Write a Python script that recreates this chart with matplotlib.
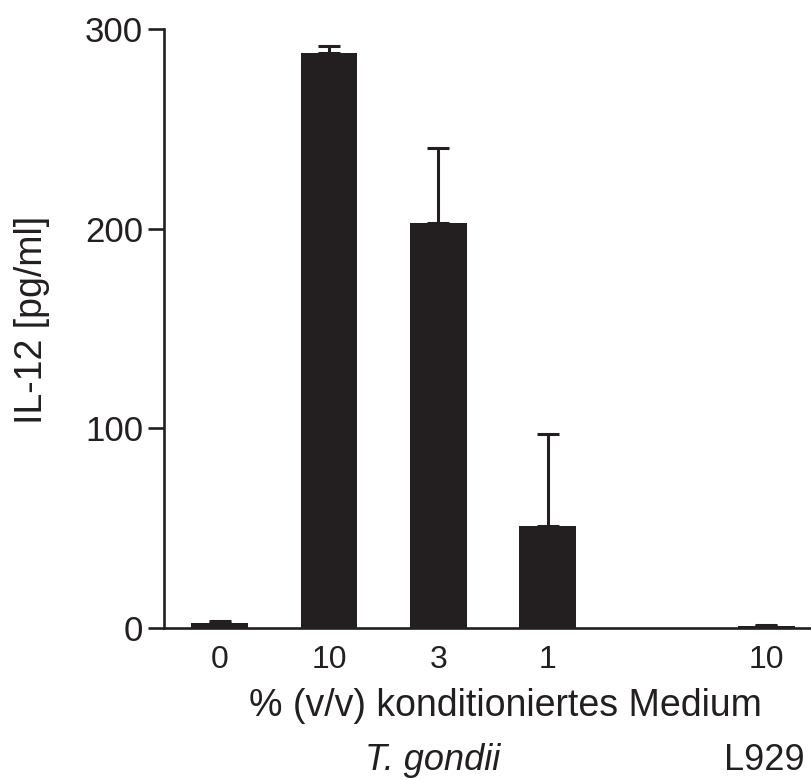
import matplotlib.pyplot as plt

# IL-12 nach Stimulation mit konditioniertem Medium
positions = [0, 1, 2, 3, 5]
tick_labels = ["0", "10", "3", "1", "10"]
il12_mean = [2.5, 288, 203, 51, 0.8]
il12_err = [1.0, 3.5, 37.5, 46, 0.8]

INK = "#231f20"
W, H = 811, 780

plt.rcParams["font.family"] = ["Liberation Sans", "DejaVu Sans"]

fig = plt.figure(figsize=(W / 100, H / 100), dpi=100)
ax = fig.add_axes([164 / W, 152 / H, 647 / W, 599 / H])

ax.bar(positions, il12_mean, width=0.52, color=INK, edgecolor=INK, linewidth=0)
ax.errorbar(positions, il12_mean, yerr=[[0] * len(il12_err), il12_err],
            fmt="none", ecolor=INK, elinewidth=2.2, capsize=8, capthick=2.2)

ax.set_xlim(-0.51, 5.41)
ax.set_ylim(0, 300)
ax.set_yticks([0, 100, 200, 300])
ax.set_xticks(positions)
ax.set_xticklabels(tick_labels)

for side in ["top", "right"]:
    ax.spines[side].set_visible(False)
for side in ["left", "bottom"]:
    ax.spines[side].set_linewidth(1.9)
    ax.spines[side].set_color(INK)

ax.tick_params(axis="y", length=11.5, width=1.9, color=INK, pad=3.5,
               labelsize=25, labelcolor=INK)
ax.tick_params(axis="x", length=0, pad=12, labelsize=23, labelcolor=INK)

# Achsentitel als freie Texte, Position über die Grundlinie
fig.text(42 / W, 1 - 320 / H, "IL-12 [pg/ml]", rotation=90, rotation_mode="anchor",
         ha="center", va="baseline", fontsize=27, color=INK)
fig.text(505 / W, 1 - 716 / H, "% (v/v) konditioniertes Medium",
         ha="center", va="baseline", fontsize=27, color=INK)
fig.text(433 / W, 1 - 770 / H, "T. gondii", style="italic",
         ha="center", va="baseline", fontsize=26, color=INK)
fig.text(764 / W, 1 - 770 / H, "L929",
         ha="center", va="baseline", fontsize=26, color=INK)

fig.savefig("out.png", dpi=100)
